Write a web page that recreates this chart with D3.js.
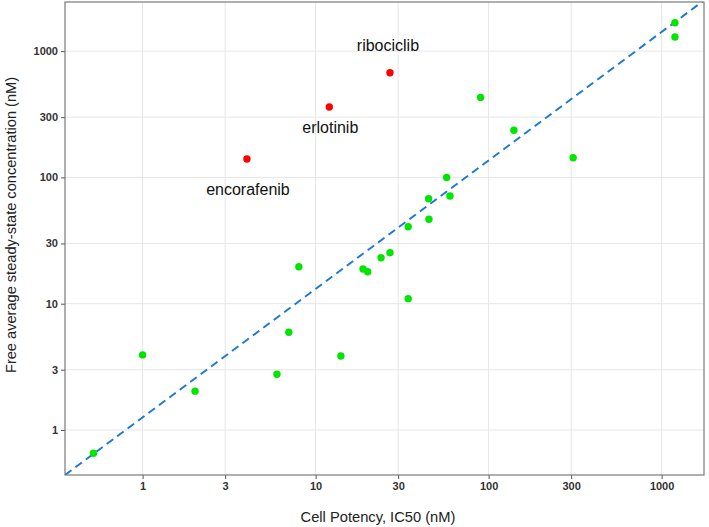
<!DOCTYPE html>
<html>
<head>
<meta charset="utf-8">
<script src="https://cdn.jsdelivr.net/npm/d3@7"></script>
<style>
  html, body { margin: 0; padding: 0; background: #fff; }
  svg { display: block; font-family: "Liberation Sans", Arial, sans-serif; }
</style>
</head>
<body>
<svg id="chart" width="709" height="527"></svg>
<script>
// ---- data ----
const drugNames = ["", "", "", "", "", "", "", "", "", "", "", "", "", "", "", "", "", "", "", "", "", "",
                   "encorafenib", "erlotinib", "ribociclib"];
const ic50 = [0.52, 1.0, 2.01, 5.98, 7.0, 8.0, 14.0, 18.8, 20.0, 23.9, 26.9, 34.3, 34.3, 45.2, 45.0, 57.2, 59.8, 89.9, 140, 308, 1194, 1194,
              4.01, 12.0, 26.9];
const freeConc = [0.654, 3.93, 2.03, 2.76, 5.94, 19.6, 3.85, 18.8, 17.9, 23.1, 25.3, 10.96, 40.7, 46.6, 67.8, 100, 71.3, 430, 236, 143, 1679, 1294,
                  140, 361, 674];
const outlier = [false, false, false, false, false, false, false, false, false, false, false, false, false, false, false, false, false, false, false, false, false, false,
                 true, true, true];
const xTicks = [1, 3, 10, 30, 100, 300, 1000];
const yTicks = [1, 3, 10, 30, 100, 300, 1000];
const xDomain = [0.356, 1758];
const yDomain = [0.44, 2449];
const refLineX = [0.356, 1758];
const refLineY = [0.44, 2520];

// ---- layout ----
const svg = d3.select("#chart");
const plot = { left: 65, top: 2, right: 704, bottom: 475 };
const x = d3.scaleLog().domain(xDomain).range([plot.left, plot.right]);
const y = d3.scaleLog().domain(yDomain).range([plot.bottom, plot.top]);

// grid
const grid = svg.append("g");
grid.selectAll(".gx").data(xTicks).join("line")
  .attr("x1", d => x(d)).attr("x2", d => x(d))
  .attr("y1", plot.top).attr("y2", plot.bottom)
  .attr("stroke", "#e6e6e6").attr("stroke-width", 1);
grid.selectAll(".gy").data(yTicks).join("line")
  .attr("x1", plot.left).attr("x2", plot.right)
  .attr("y1", d => y(d)).attr("y2", d => y(d))
  .attr("stroke", "#e6e6e6").attr("stroke-width", 1);

// axes
const fmt = d => String(d);
const xAxis = svg.append("g")
  .attr("transform", `translate(0,${plot.bottom})`)
  .call(d3.axisBottom(x).tickValues(xTicks).tickFormat(fmt).tickSize(4).tickPadding(3));
const yAxis = svg.append("g")
  .attr("transform", `translate(${plot.left},0)`)
  .call(d3.axisLeft(y).tickValues(yTicks).tickFormat(fmt).tickSize(4).tickPadding(3));
[xAxis, yAxis].forEach(a => {
  a.select(".domain").remove();
  a.selectAll(".tick line").attr("stroke", "#555");
  a.selectAll(".tick text")
    .attr("fill", "#333").attr("font-size", 11).attr("font-weight", "bold")
    .attr("font-family", "Liberation Sans, Arial, sans-serif");
});

// clip
svg.append("clipPath").attr("id", "clip").append("rect")
  .attr("x", plot.left).attr("y", plot.top)
  .attr("width", plot.right - plot.left).attr("height", plot.bottom - plot.top);

// reference line
const lineData = refLineX.map((d, i) => ({ x: d, y: refLineY[i] }));
svg.append("path")
  .attr("clip-path", "url(#clip)")
  .attr("d", d3.line().x(d => x(d.x)).y(d => y(d.y))(lineData))
  .attr("fill", "none").attr("stroke", "#1c7ad3").attr("stroke-width", 2)
  .attr("stroke-dasharray", "8,5");

// points
const pts = ic50.map((d, i) => ({ x: d, y: freeConc[i], out: outlier[i], name: drugNames[i] }));
svg.append("g").selectAll("circle").data(pts).join("circle")
  .attr("cx", d => x(d.x)).attr("cy", d => y(d.y)).attr("r", 3.7)
  .attr("fill", d => d.out ? "#ff0000" : "#00e600");

// labels
const labelDy = { "encorafenib": 30, "erlotinib": 20, "ribociclib": -27 };
svg.append("g").selectAll("text").data(pts.filter(d => d.name)).join("text")
  .attr("x", d => x(d.x) + (d.name === "ribociclib" ? -2 : 1))
  .attr("y", d => y(d.y) + labelDy[d.name])
  .attr("dy", "0.35em")
  .attr("text-anchor", "middle")
  .attr("font-size", 16).attr("fill", "#111")
  .text(d => d.name);

// panel border
svg.append("rect")
  .attr("x", plot.left).attr("y", plot.top)
  .attr("width", plot.right - plot.left).attr("height", plot.bottom - plot.top)
  .attr("fill", "none").attr("stroke", "#7a7a7a").attr("stroke-width", 1.2);

// axis titles
svg.append("text")
  .attr("x", 378).attr("y", 516.5)
  .attr("dy", "0.35em").attr("text-anchor", "middle")
  .attr("font-size", 14.7).attr("fill", "#222")
  .text("Cell Potency, IC50 (nM)");
svg.append("text")
  .attr("transform", `translate(11,225) rotate(-90)`)
  .attr("dy", "0.35em").attr("text-anchor", "middle")
  .attr("font-size", 14.6).attr("fill", "#222")
  .text("Free average steady-state concentration (nM)");
</script>
</body>
</html>
